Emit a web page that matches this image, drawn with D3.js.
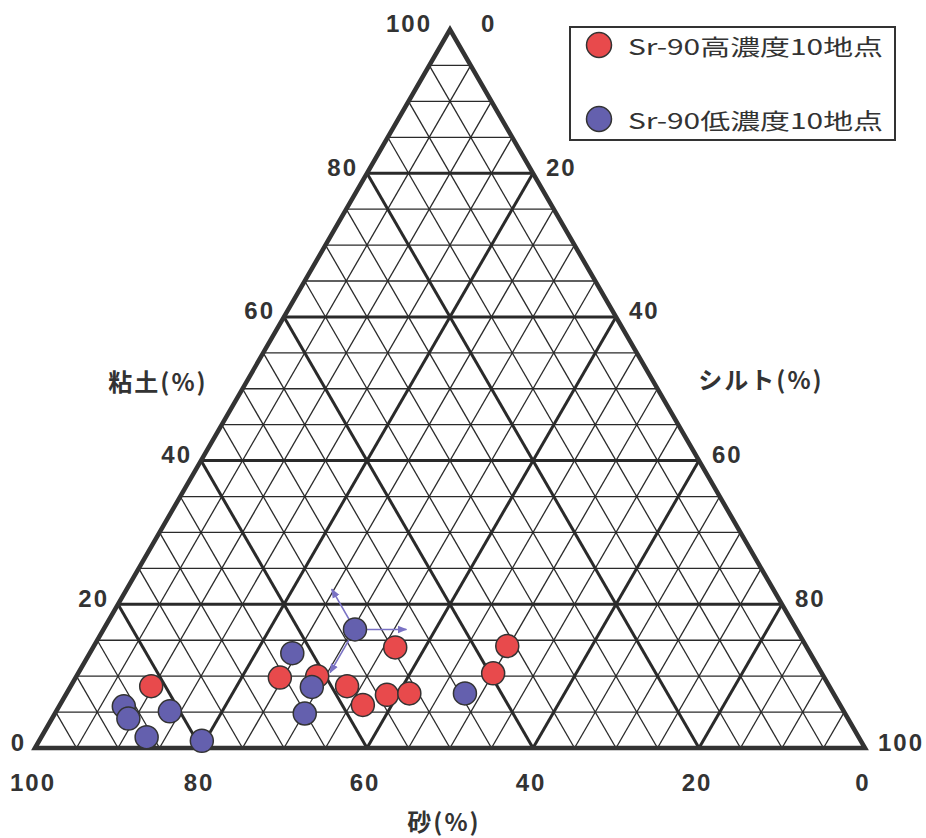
<!DOCTYPE html>
<html>
<head>
<meta charset="utf-8">
<script src="https://cdn.jsdelivr.net/npm/d3@7"></script>
<style>
  html, body { margin: 0; padding: 0; background: #ffffff; }
  svg { display: block; }
  text { fill: #333; }
</style>
</head>
<body>
<svg id="chart" width="926" height="838"></svg>
<script>
// Soil texture (sand / silt / clay, %) at the sampling sites
const highSand = [81.7, 65.6, 61.0, 58.1, 57.5, 53.9, 51.1, 49.6, 39.6, 36.0];
const highClay = [8.6, 9.8, 10.0, 8.6, 6.0, 7.4, 7.6, 14.0, 10.4, 14.2];
const highSilt = highSand.map((s, i) => +(100 - s - highClay[i]).toFixed(1));

const lowSand = [86.4, 86.7, 85.8, 81.2, 79.4, 62.4, 62.4, 65.1, 53.2, 44.4];
const lowClay = [5.8, 4.1, 1.5, 5.1, 1.0, 13.2, 8.5, 4.8, 16.5, 7.6];
const lowSilt = lowSand.map((s, i) => +(100 - s - lowClay[i]).toFixed(1));

const seriesNames = ["Sr-90高濃度10地点", "Sr-90低濃度10地点"];
const seriesColors = ["#e84a4c", "#6460ae"];

const tickValues = [0, 20, 40, 60, 80, 100];
const axisTitles = { clay: "粘土(%)", silt: "シルト(%)", sand: "砂(%)" };

// Reading-direction arrows drawn from one sample: [dSand, dClay] in %
const guideSample = 8; // index in the low series
const guideArrows = [[0, 5.6], [-6.2, 0], [6, -6]];

const svg = d3.select("#chart");

// Scales: sand runs along the base (100 at left), clay up the height
const xSand = d3.scaleLinear().domain([100, 0]).range([35, 865]);
const yClay = d3.scaleLinear().domain([0, 100]).range([748, 29.5]);
const pxPerUnit = (xSand(0) - xSand(100)) / 100;

// Ternary (sand, clay) -> screen
const px = (s, c) => xSand(s + c / 2);
const py = (s, c) => yClay(c);

const g = svg.append("g");

// Grid lines every 5%, heavier every 20%
const levels = d3.range(5, 100, 5);
function gridSegs(v) {
  return [
    [[100 - v, v], [0, v]],          // constant clay
    [[v, 0], [v, 100 - v]],          // constant sand
    [[100 - v, 0], [0, 100 - v]]     // constant silt
  ];
}
const minor = levels.filter(v => v % 20 !== 0);
const major = levels.filter(v => v % 20 === 0);

g.selectAll("line.minor")
  .data(minor.flatMap(gridSegs))
  .join("line")
  .attr("class", "minor")
  .attr("x1", d => px(...d[0])).attr("y1", d => py(...d[0]))
  .attr("x2", d => px(...d[1])).attr("y2", d => py(...d[1]))
  .attr("stroke", "#2a2a2a").attr("stroke-width", 1.3);

g.selectAll("line.major")
  .data(major.flatMap(gridSegs))
  .join("line")
  .attr("class", "major")
  .attr("x1", d => px(...d[0])).attr("y1", d => py(...d[0]))
  .attr("x2", d => px(...d[1])).attr("y2", d => py(...d[1]))
  .attr("stroke", "#2a2a2a").attr("stroke-width", 3);

// Triangle outline: sand corner, clay apex, silt corner
const corners = [[100, 0], [0, 100], [0, 0]];
g.append("path")
  .attr("d", "M" + corners.map(c => [px(...c), py(...c)].join(",")).join("L") + "Z")
  .attr("fill", "none")
  .attr("stroke", "#333")
  .attr("stroke-width", 4.5)
  .attr("stroke-linejoin", "miter");

// Tick labels
const numFont = "'Liberation Sans', Arial, sans-serif";
const tg = svg.append("g")
  .attr("font-family", numFont)
  .attr("font-size", 24)
  .attr("font-weight", "bold")
  .attr("letter-spacing", 2);

// Clay: left edge
tg.selectAll("text.clay")
  .data(tickValues)
  .join("text")
  .attr("class", "clay")
  .attr("x", c => px(100 - c, c) - 9 - (c === 100 ? 9 : 0))
  .attr("y", c => py(100 - c, c) - 6)
  .attr("text-anchor", "end")
  .attr("dominant-baseline", "central")
  .text(c => c);

// Silt: right edge (0 at apex, 100 at right corner)
tg.selectAll("text.silt")
  .data(tickValues)
  .join("text")
  .attr("class", "silt")
  .attr("x", t => px(0, 100 - t) + 13 + (t === 0 ? 18 : 0))
  .attr("y", t => py(0, 100 - t) - 6)
  .attr("text-anchor", "start")
  .attr("dominant-baseline", "central")
  .text(t => t);

// Sand: base
tg.selectAll("text.sand")
  .data(tickValues)
  .join("text")
  .attr("class", "sand")
  .attr("x", s => px(s, 0) - 2)
  .attr("y", 791)
  .attr("text-anchor", "middle")
  .text(s => s);

// Axis titles
const jpFont = "'Noto Sans CJK JP', sans-serif";
const titles = svg.append("g")
  .attr("font-family", jpFont)
  .attr("font-size", 24)
  .attr("font-weight", "bold")
  .attr("letter-spacing", 2)
  .attr("text-anchor", "middle");
titles.append("text").attr("x", 158).attr("y", 391).text(axisTitles.clay);
titles.append("text").attr("x", 761).attr("y", 389).text(axisTitles.silt);
titles.append("text").attr("x", 444).attr("y", 831).text(axisTitles.sand);

// Reading-direction arrows
svg.append("defs").append("marker")
  .attr("id", "arrowhead")
  .attr("viewBox", "0 0 10 10")
  .attr("refX", 9).attr("refY", 5)
  .attr("markerWidth", 6).attr("markerHeight", 6)
  .attr("orient", "auto")
  .append("path")
  .attr("d", "M0,1L10,5L0,9Z")
  .attr("fill", "#7a72c4");

const gs = lowSand[guideSample], gc = lowClay[guideSample];
svg.append("g").selectAll("line")
  .data(guideArrows)
  .join("line")
  .attr("x1", d => {
    const len = Math.hypot(px(gs + d[0], gc + d[1]) - px(gs, gc), py(gs + d[0], gc + d[1]) - py(gs, gc));
    return px(gs, gc) + (px(gs + d[0], gc + d[1]) - px(gs, gc)) * 10 / len;
  })
  .attr("y1", d => {
    const len = Math.hypot(px(gs + d[0], gc + d[1]) - px(gs, gc), py(gs + d[0], gc + d[1]) - py(gs, gc));
    return py(gs, gc) + (py(gs + d[0], gc + d[1]) - py(gs, gc)) * 10 / len;
  })
  .attr("x2", d => px(gs + d[0], gc + d[1]))
  .attr("y2", d => py(gs + d[0], gc + d[1]))
  .attr("stroke", "#7a72c4")
  .attr("stroke-width", 1.6)
  .attr("marker-end", "url(#arrowhead)");

// Sample points
const high = highSand.map((s, i) => ({ s, c: highClay[i], t: highSilt[i] }));
const low = lowSand.map((s, i) => ({ s, c: lowClay[i], t: lowSilt[i] }));

[[high, seriesColors[0]], [low, seriesColors[1]]].forEach(([pts, col]) => {
  svg.append("g").selectAll("circle")
    .data(pts)
    .join("circle")
    .attr("cx", d => px(d.s, d.c))
    .attr("cy", d => py(d.s, d.c))
    .attr("r", 11.5)
    .attr("fill", col)
    .attr("stroke", "#333")
    .attr("stroke-width", 1.5);
});

// Legend
const lg = svg.append("g");
lg.append("rect")
  .attr("x", 570).attr("y", 27).attr("width", 325).attr("height", 113)
  .attr("fill", "#fff").attr("stroke", "#333").attr("stroke-width", 2);
const legendRows = lg.selectAll("g.row")
  .data(seriesNames)
  .join("g")
  .attr("class", "row")
  .attr("transform", (d, i) => `translate(0, ${45 + i * 74})`);
legendRows.append("circle")
  .attr("cx", 599).attr("cy", 0).attr("r", 12.5)
  .attr("fill", (d, i) => seriesColors[i])
  .attr("stroke", "#333").attr("stroke-width", 1.5);
legendRows.append("text")
  .attr("x", 628).attr("y", 0)
  .attr("dominant-baseline", "central")
  .attr("font-family", jpFont)
  .attr("font-size", 22)
  .attr("textLength", 255)
  .attr("lengthAdjust", "spacingAndGlyphs")
  .text(d => d);
</script>
</body>
</html>
